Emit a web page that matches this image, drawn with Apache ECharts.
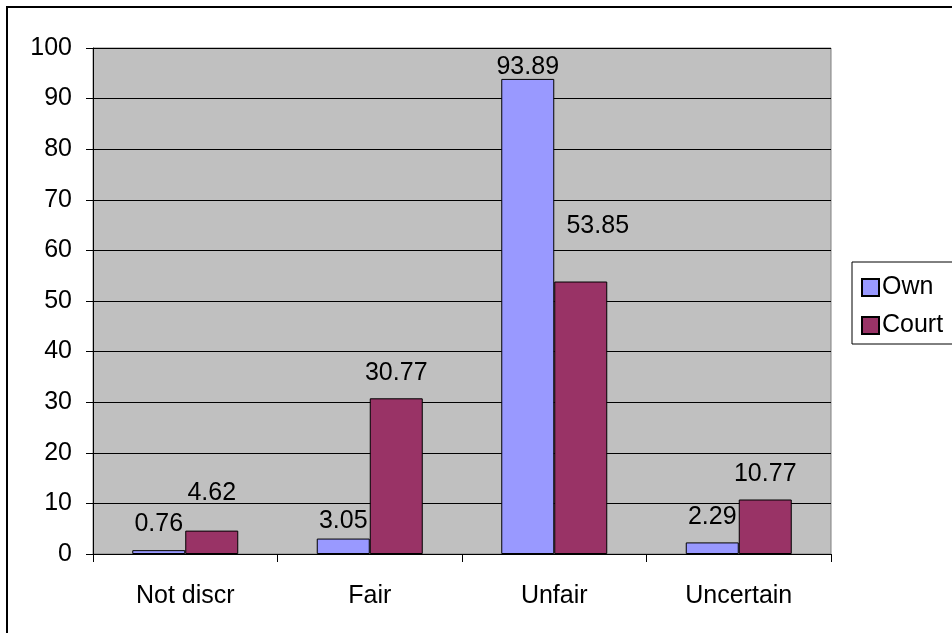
<!DOCTYPE html>
<html>
<head>
<meta charset="utf-8">
<script src="https://cdn.jsdelivr.net/npm/echarts@6/dist/echarts.min.js"></script>
<style>
  html, body { margin: 0; padding: 0; background: #fff; }
  #chart { width: 952px; height: 633px; }
</style>
</head>
<body>
<div id="chart"></div>
<script>
// Categories and series values
var categories = ['Not discr', 'Fair', 'Unfair', 'Uncertain'];
var ownValues = [0.76, 3.05, 93.89, 2.29];
var courtValues = [4.62, 30.77, 53.85, 10.77];

// Label placement above each bar: [gap in px, horizontal shift in px]
var ownLabelPlace = [[14, 0], [5, 0], [-1, 0], [13, 0]];
var courtLabelPlace = [[25, 0], [13, 0], [43, 17], [13, 0]];

var FONT = 'Arial, "Liberation Sans", sans-serif';
var FS = 25;

function buildData(values, place) {
  return values.map(function (v, i) {
    return {
      value: v,
      label: { distance: place[i][0], offset: [place[i][1], 0] }
    };
  });
}

var chart = echarts.init(document.getElementById('chart'), null, { renderer: 'canvas' });

var option = {
  animation: false,
  backgroundColor: '#ffffff',
  textStyle: { fontFamily: FONT },
  graphic: [{
    type: 'rect',
    shape: { x: 7, y: 7, width: 1000, height: 1000 },
    style: { fill: 'none', stroke: '#000', lineWidth: 2 },
    z: 100
  }],
  grid: {
    left: 93, top: 48, right: 121, bottom: 79,
    show: true,
    backgroundColor: '#C0C0C0',
    borderColor: '#808080',
    borderWidth: 1
  },
  legend: {
    left: 852, top: 262,
    orient: 'vertical',
    icon: 'rect',
    padding: [13, 10, 6, 9],
    itemWidth: 17, itemHeight: 17,
    itemGap: 13,
    borderColor: '#000', borderWidth: 1,
    backgroundColor: '#fff',
    textStyle: { fontFamily: FONT, fontSize: FS, color: '#000', padding: [0, 0, 0, -2] },
    data: ['Own', 'Court']
  },
  xAxis: {
    type: 'category',
    data: categories,
    axisLine: { lineStyle: { color: '#000', width: 1 } },
    axisTick: { show: true, length: 8, lineStyle: { color: '#000' } },
    axisLabel: { margin: 30, fontFamily: FONT, fontSize: FS, color: '#000' },
    splitLine: { show: false }
  },
  yAxis: {
    type: 'value',
    min: 0, max: 100, interval: 10,
    axisLine: { show: true, lineStyle: { color: '#000', width: 1 } },
    axisTick: { show: true, length: 7, lineStyle: { color: '#000' } },
    axisLabel: { margin: 21, fontFamily: FONT, fontSize: FS, color: '#000' },
    splitLine: { show: true, lineStyle: { color: '#000', width: 1 } }
  },
  series: [
    {
      name: 'Own', type: 'bar',
      data: buildData(ownValues, ownLabelPlace),
      barWidth: 53, barGap: '0%',
      itemStyle: { color: '#9999FF', borderColor: '#000', borderWidth: 1 },
      label: { show: true, position: 'top', fontFamily: FONT, fontSize: FS, color: '#000' }
    },
    {
      name: 'Court', type: 'bar',
      data: buildData(courtValues, courtLabelPlace),
      barWidth: 53, barGap: '0%',
      itemStyle: { color: '#993366', borderColor: '#000', borderWidth: 1 },
      label: { show: true, position: 'top', fontFamily: FONT, fontSize: FS, color: '#000' }
    }
  ]
};

chart.setOption(option);
</script>
</body>
</html>
